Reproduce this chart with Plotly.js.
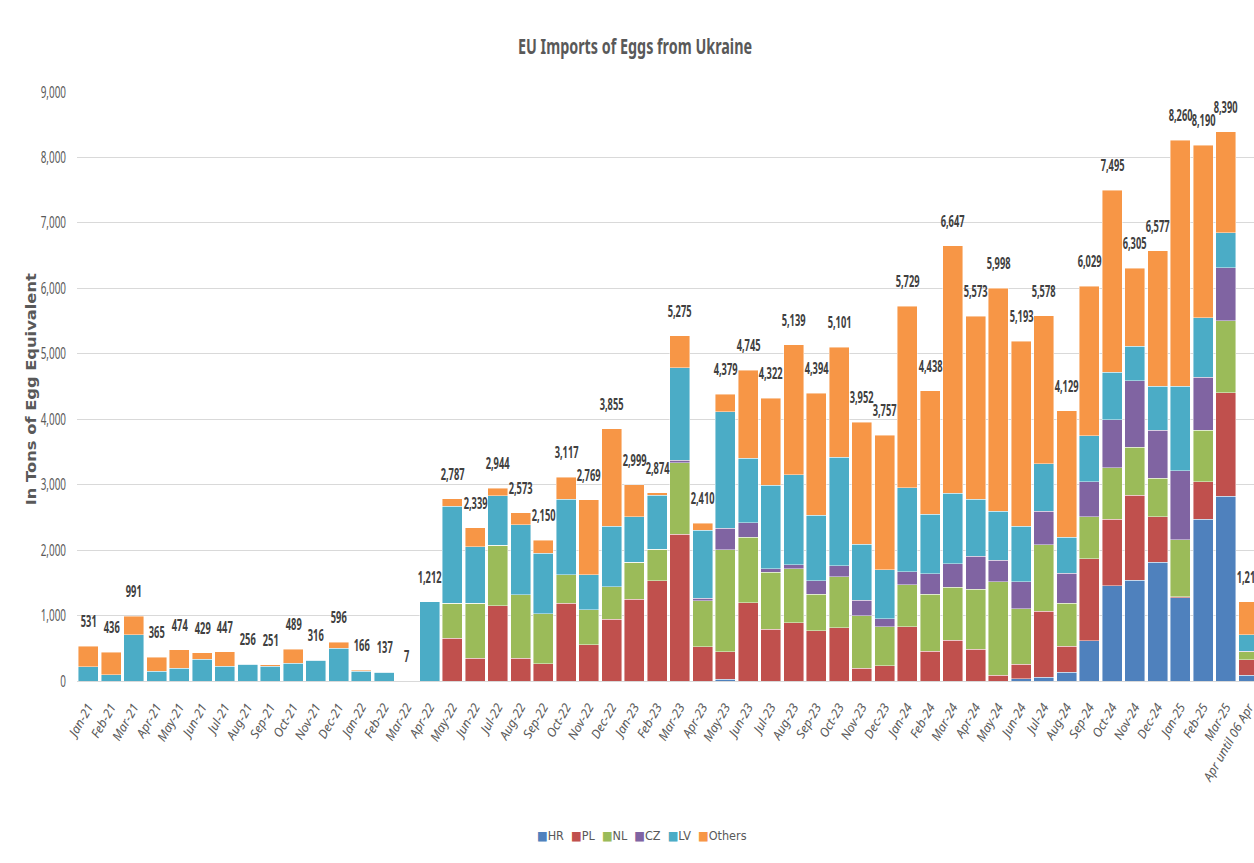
<!DOCTYPE html>
<html>
<head>
<meta charset="utf-8">
<script src="https://cdn.plot.ly/plotly-3.0.1.min.js"></script>
<style>
html, body { margin: 0; padding: 0; overflow: hidden; background: #fff; }
#chart { width: 1262px; height: 863px; }
#border { position: absolute; left: 9px; top: 0; width: 1px; height: 863px; background: #d9d9d9; }
.xtick text { font-style: italic !important; }
</style>
</head>
<body>
<div id="border"></div>
<div id="chart"></div>
<script>
const categories = ['Jan-21','Feb-21','Mar-21','Apr-21','May-21','Jun-21','Jul-21','Aug-21','Sep-21','Oct-21','Nov-21','Dec-21',
  'Jan-22','Feb-22','Mar-22','Apr-22','May-22','Jun-22','Jul-22','Aug-22','Sep-22','Oct-22','Nov-22','Dec-22',
  'Jan-23','Feb-23','Mar-23','Apr-23','May-23','Jun-23','Jul-23','Aug-23','Sep-23','Oct-23','Nov-23','Dec-23',
  'Jan-24','Feb-24','Mar-24','Apr-24','May-24','Jun-24','Jul-24','Aug-24','Sep-24','Oct-24','Nov-24','Dec-24',
  'Jan-25','Feb-25','Mar-25','Apr until 06 Apr'];

const HR = [0,0,0,0,0,0,0,0,0,0,0,0, 0,0,0,0,0,0,0,0,0,0,0,0, 0,0,0,0,30,0,0,0,0,0,0,0,
  0,0,0,0,0,36,60,137,616,1458,1536,1811, 1273,2475,2821,90];
const PL = [0,0,0,0,0,0,0,0,0,0,0,0, 0,0,0,0,653,347,1148,347,265,1188,551,944,
  1250,1535,2239,520,414,1199,791,887,765,811,194,230,
  826,454,622,484,90,221,1004,395,1255,1011,1303,699, 18,573,1584,233];
const NL = [0,0,0,0,0,0,0,0,0,0,0,0, 0,0,0,0,535,841,928,969,760,439,535,494,
  561,480,1096,704,1565,994,867,832,561,780,801,601,
  643,872,811,915,1428,849,1016,657,639,789,729,586, 867,783,1100,125];
const CZ = [0,0,0,0,0,0,0,0,0,0,0,0, 0,0,0,0,0,0,0,0,0,0,0,0,
  0,0,35,40,322,224,56,61,204,169,239,123,
  199,311,362,508,329,412,514,455,532,735,1023,735, 1052,807,807,10];
const LV = [218,99,707,146,192,333,224,256,224,270,316,504, 150,137,7,1212,1479,867,755,1071,928,1147,541,923,
  698,821,1418,1040,1785,985,1275,1372,1005,1662,852,744,
  1285,908,1071,872,747,849,723,556,706,723,526,676, 1297,909,538,245];
const Others = [313,337,284,219,282,96,223,0,27,219,0,92, 16,0,0,0,120,284,113,186,197,343,1142,1494,
  490,38,487,106,263,1343,1333,1987,1859,1679,1866,2059,
  2776,1893,3781,2794,3404,2826,2261,1929,2281,2779,1188,2070, 3753,2643,1540,509];
const totals = [531,436,991,365,474,429,447,256,251,489,316,596, 166,137,7,1212,2787,2339,2944,2573,2150,3117,2769,3855,
  2999,2874,5275,2410,4379,4745,4322,5139,4394,5101,3952,3757,
  5729,4438,6647,5573,5998,5193,5578,4129,6029,7495,6305,6577, 8260,8190,8390,1212];

const seriesNames = ['HR','PL','NL','CZ','LV','Others'];
const seriesData = [HR, PL, NL, CZ, LV, Others];
const seriesColors = ['#4F81BD','#C0504D','#9BBB59','#8064A2','#4BACC6','#F79646'];

const FONT = "'Noto Sans', 'Open Sans', 'DejaVu Sans', sans-serif";
const NARROW = "'DejaVu Sans Condensed', 'DejaVu Sans', sans-serif";

const traces = seriesNames.map((name, i) => ({
  type: 'bar',
  name: name,
  x: categories,
  y: seriesData[i],
  marker: { color: seriesColors[i], line: { color: 'rgba(255,255,255,0.55)', width: 0.8 } },
  hoverinfo: 'x+y+name'
}));

const annotations = categories.map((c, i) => ({
  x: c, y: totals[i], xref: 'x', yref: 'y',
  text: totals[i].toLocaleString('en-US'),
  showarrow: false, yanchor: 'middle', yshift: 25,
  font: { family: FONT, size: 16, color: '#404040', weight: 'bold' }
}));
const NLAB = annotations.length;

// legend drawn as one line of text
annotations.push({
  xref: 'paper', yref: 'paper', x: 0.478, y: -0.263, xanchor: 'center', yanchor: 'middle',
  showarrow: false,
  text: seriesNames.map((n, i) => '<span style="color:' + seriesColors[i] + '">\u25A0</span>' + n).join('&nbsp;&nbsp;'),
  font: { family: NARROW, size: 12.5, color: '#595959' }
});
// y axis title
annotations.push({
  xref: 'paper', yref: 'paper', x: -0.0389, y: 0.4958, xanchor: 'center', yanchor: 'middle',
  showarrow: false, textangle: -90,
  text: 'In Tons of Egg Equivalent',
  font: { family: "'DejaVu Sans', sans-serif", size: 14, color: '#595959', weight: 'bold' }
});
const YT = annotations.length - 1;

const layout = {
  width: 1262, height: 863,
  barmode: 'stack',
  bargap: 0.13,
  paper_bgcolor: '#ffffff', plot_bgcolor: '#ffffff',
  margin: { l: 77, r: 2, t: 92, b: 182 },
  showlegend: false,
  title: {
    text: 'EU Imports of Eggs from Ukraine',
    font: { family: FONT, size: 21, color: '#595959', weight: 'bold' },
    x: 0.4717, xref: 'paper', xanchor: 'center', y: 0.9455, yref: 'container', yanchor: 'middle'
  },
  xaxis: {
    type: 'category',
    range: [-0.5, categories.length - 0.5],
    tickangle: -60,
    tickfont: { family: FONT, size: 12.5, color: '#595959' },
    ticklabelstandoff: 13,
    showgrid: false,
    showline: true, linecolor: '#d9d9d9', linewidth: 1,
    ticks: '', automargin: false
  },
  yaxis: {
    range: [0, 9000],
    dtick: 1000,
    tickformat: ',d',
    tickfont: { family: FONT, size: 16, color: '#595959' },
    ticklabelstandoff: 10,
    gridcolor: '#d9d9d9', gridwidth: 1,
    zeroline: false,
    showline: false,
    ticks: '', ticklen: 0,
    automargin: false
  },
  annotations: annotations
};

function squeeze(nodes, factor, target) {
  nodes.forEach(t => {
    const L = t.getComputedTextLength();
    if (!L) return;
    t.setAttribute('lengthAdjust', 'spacingAndGlyphs');
    t.setAttribute('textLength', (target ? target : L * factor).toFixed(2));
  });
}

Plotly.newPlot('chart', traces, layout, { displayModeBar: false, staticPlot: true }).then(gd => {
  const ann = Array.from(gd.querySelectorAll('.annotation'));
  ann.forEach(a => {
    const idx = +a.getAttribute('data-index');
    const t = a.querySelectorAll('text.annotation-text');
    if (idx < NLAB) squeeze(t, 0.58);
    else if (idx === YT) squeeze(t, 1, 232);
  });
  squeeze(gd.querySelectorAll('.ytick text'), 0.62);
  squeeze(gd.querySelectorAll('.gtitle'), 1, 234);
});
</script>
</body>
</html>
